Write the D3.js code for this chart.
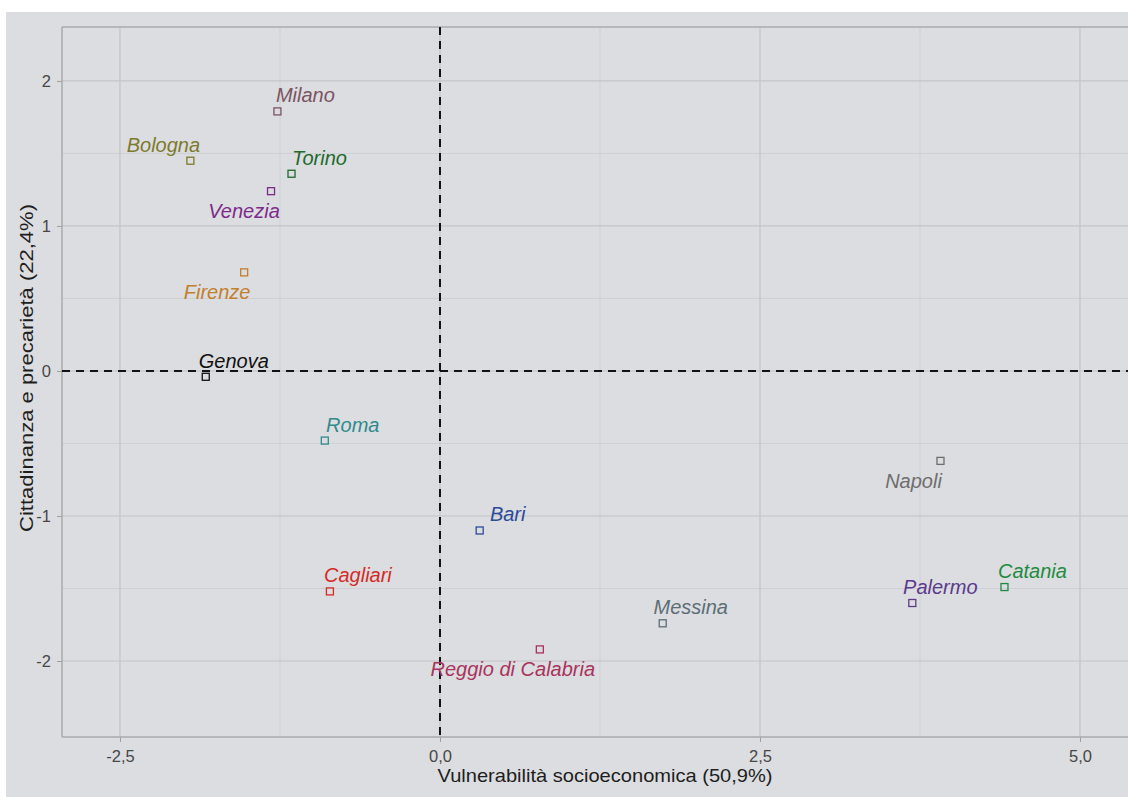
<!DOCTYPE html>
<html>
<head>
<meta charset="utf-8">
<script src="https://cdn.jsdelivr.net/npm/d3@7"></script>
<style>
  html, body { margin: 0; padding: 0; background: #ffffff; }
  svg { display: block; }
</style>
</head>
<body>
<svg id="chart" width="1128" height="797"></svg>
<script>
const cities = ["Milano","Bologna","Torino","Venezia","Firenze","Genova","Roma","Bari","Cagliari","Reggio di Calabria","Messina","Napoli","Palermo","Catania"];
const dim1 = [-1.27,-1.95,-1.16,-1.32,-1.53,-1.83,-0.90,0.31,-0.86,0.78,1.74,3.91,3.69,4.41];
const dim2 = [1.79,1.45,1.36,1.24,0.68,-0.04,-0.48,-1.10,-1.52,-1.92,-1.74,-0.62,-1.60,-1.49];
const colors = ["#7a5462","#7d7a2c","#1f6a2c","#7c2b8a","#c27f2c","#111111","#2f8b8c","#2c4b98","#d42b27","#a8335c","#5b6e77","#6e6e6e","#5b3a8c","#1f8b40"];
const labelSide = ["ne","nw","ne","sw","sw","ne","ne","ne","ne","sw","ne","sw","ne","ne"];
const xTicks = [-2.5, 0, 2.5, 5];
const yTicks = [-2, -1, 0, 1, 2];
const xMinor = [-1.25, 1.25, 3.75];
const yMinor = [-1.5, -0.5, 0.5, 1.5];
const xTitle = "Vulnerabilità socioeconomica (50,9%)";
const yTitle = "Cittadinanza e precarietà (22,4%)";

const svg = d3.select("#chart");
const W = 1128, H = 797;
const P = {left: 62, right: 1128, top: 27, bottom: 737};
const FONT = "Liberation Sans, Arial, sans-serif";

svg.append("rect").attr("x", 6).attr("y", 12).attr("width", W - 6).attr("height", H - 12).attr("fill", "#dcdde0");

const x = d3.scaleLinear().domain([-2.953, 5.375]).range([P.left, P.right]);
const y = d3.scaleLinear().domain([-2.524, 2.372]).range([P.bottom, P.top]);

const g = svg.append("g");
g.selectAll(".xm").data(xMinor).enter().append("line")
  .attr("x1", d => x(d)).attr("x2", d => x(d)).attr("y1", P.top).attr("y2", P.bottom)
  .attr("stroke", "#cfd0d3").attr("stroke-width", 1);
g.selectAll(".ym").data(yMinor).enter().append("line")
  .attr("y1", d => y(d)).attr("y2", d => y(d)).attr("x1", P.left).attr("x2", P.right)
  .attr("stroke", "#cfd0d3").attr("stroke-width", 1);
g.selectAll(".xM").data(xTicks).enter().append("line")
  .attr("x1", d => x(d)).attr("x2", d => x(d)).attr("y1", P.top).attr("y2", P.bottom)
  .attr("stroke", "#c3c4c7").attr("stroke-width", 1.2);
g.selectAll(".yM").data(yTicks).enter().append("line")
  .attr("y1", d => y(d)).attr("y2", d => y(d)).attr("x1", P.left).attr("x2", P.right)
  .attr("stroke", "#c3c4c7").attr("stroke-width", 1.2);

svg.append("line").attr("x1", P.left).attr("x2", P.right).attr("y1", P.top).attr("y2", P.top).attr("stroke", "#a9aaad").attr("stroke-width", 1.5);
svg.append("line").attr("x1", P.left).attr("x2", P.right).attr("y1", P.bottom).attr("y2", P.bottom).attr("stroke", "#a9aaad").attr("stroke-width", 1.5);
svg.append("line").attr("x1", P.left).attr("x2", P.left).attr("y1", P.top).attr("y2", P.bottom).attr("stroke", "#a9aaad").attr("stroke-width", 1.5);

svg.append("line").attr("x1", P.left).attr("x2", P.right).attr("y1", y(0)).attr("y2", y(0))
  .attr("stroke", "#111").attr("stroke-width", 2).attr("stroke-dasharray", "8,6");
svg.append("line").attr("x1", x(0)).attr("x2", x(0)).attr("y1", P.top).attr("y2", P.bottom)
  .attr("stroke", "#111").attr("stroke-width", 2).attr("stroke-dasharray", "8,6");

const fmtX = d => d3.format(".1f")(d).replace(".", ",").replace("−", "-");
const xAxis = svg.append("g").attr("transform", `translate(0,${P.bottom})`)
  .call(d3.axisBottom(x).tickValues(xTicks).tickFormat(fmtX).tickSize(5).tickPadding(8));
const yAxis = svg.append("g").attr("transform", `translate(${P.left},0)`)
  .call(d3.axisLeft(y).tickValues(yTicks).tickFormat(d => String(d)).tickSize(5).tickPadding(6));
[xAxis, yAxis].forEach(a => {
  a.select(".domain").remove();
  a.selectAll(".tick line").attr("stroke", "#a0a0a0");
  a.selectAll(".tick text").attr("fill", "#474747").style("font-family", FONT).style("font-size", "16.5px");
});

svg.append("text").attr("x", 605).attr("y", 782)
  .attr("text-anchor", "middle").attr("fill", "#1e1e1e")
  .attr("textLength", 335).attr("lengthAdjust", "spacingAndGlyphs")
  .style("font-family", FONT).style("font-size", "19px").text(xTitle);
svg.append("text").attr("transform", `translate(27,368) rotate(-90)`)
  .attr("text-anchor", "middle").attr("dy", "0.35em").attr("fill", "#1e1e1e")
  .attr("textLength", 328).attr("lengthAdjust", "spacingAndGlyphs")
  .style("font-family", FONT).style("font-size", "17.5px").text(yTitle);

const data = cities.map((c, i) => ({c, x: dim1[i], y: dim2[i], col: colors[i], side: labelSide[i]}));
svg.selectAll(".pt").data(data).enter().append("rect")
  .attr("x", d => x(d.x) - 3.5).attr("y", d => y(d.y) - 3.5)
  .attr("width", 7).attr("height", 7)
  .attr("fill", "none").attr("stroke", d => d.col).attr("stroke-width", 1.3);

svg.selectAll(".lab").data(data).enter().append("text")
  .attr("x", d => x(d.x) + (d.side[1] === "e" ? 28 : -27))
  .attr("y", d => y(d.y) + (d.side[0] === "n" ? -16 : 20))
  .attr("dy", "0.35em")
  .attr("text-anchor", "middle")
  .attr("fill", d => d.col)
  .style("font-family", FONT)
  .style("font-style", "italic")
  .style("font-size", "20px")
  .text(d => d.c);
</script>
</body>
</html>
